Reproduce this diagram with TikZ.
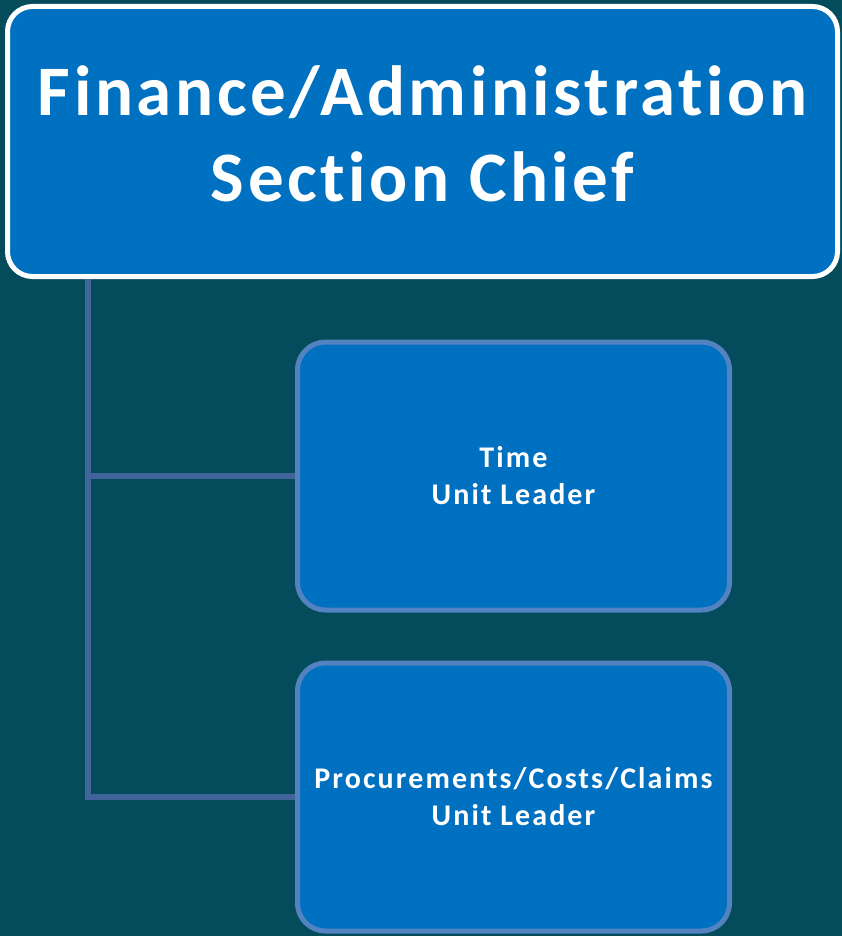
\documentclass[tikz,border=0pt]{standalone}
\usepackage{fontspec}
\setmainfont{Carlito}
\newfontfamily\chieffont[LetterSpace=5, Ligatures=NoCommon]{Carlito}
\newfontfamily\unitfont[LetterSpace=7, Ligatures=NoCommon]{Carlito}
\usepackage{xcolor}
\usetikzlibrary{positioning, calc}
\definecolor{bgteal}{HTML}{044B5C}
\definecolor{boxblue}{HTML}{0070C0}
\definecolor{rimblue}{HTML}{5282BF}
\definecolor{linkblue}{HTML}{41649A}
\tikzset{
    chiefbox/.style={draw=white, fill=boxblue, line width=5pt, rounded corners=25pt,
        minimum width=830pt, minimum height=270pt, align=center, text=white,
        text depth=15pt, font=\chieffont\fontsize{71}{86}\selectfont\bfseries},
    unitbox/.style={draw=rimblue, fill=boxblue, line width=5pt, rounded corners=28pt,
        minimum width=432pt, minimum height=268pt, align=center, text=white,
        font=\unitfont\fontsize{30}{37}\selectfont\bfseries},
    link/.style={draw=linkblue, line width=6pt}
}

\begin{document}
\begin{tikzpicture}[x=1pt, y=-1pt]
    \fill[bgteal] (0,0) rectangle (842,936);
    % Section chief
    \node[chiefbox] (chief) at (422.5,141.5) {Finance/Administration\\Section Chief};
    % Units
    \node[unitbox] (time) at (513.5,476) {Time\\Unit Leader};
    \node[unitbox] (claims) at (513.5,797) {Procurements/Costs/Claims\\Unit Leader};
    % Connectors
    \coordinate (trunk) at ([xshift=83pt]chief.south west);
    \draw[link] (trunk) |- (time.west);
    \draw[link] (trunk) |- (claims.west);
\end{tikzpicture}
\end{document}
